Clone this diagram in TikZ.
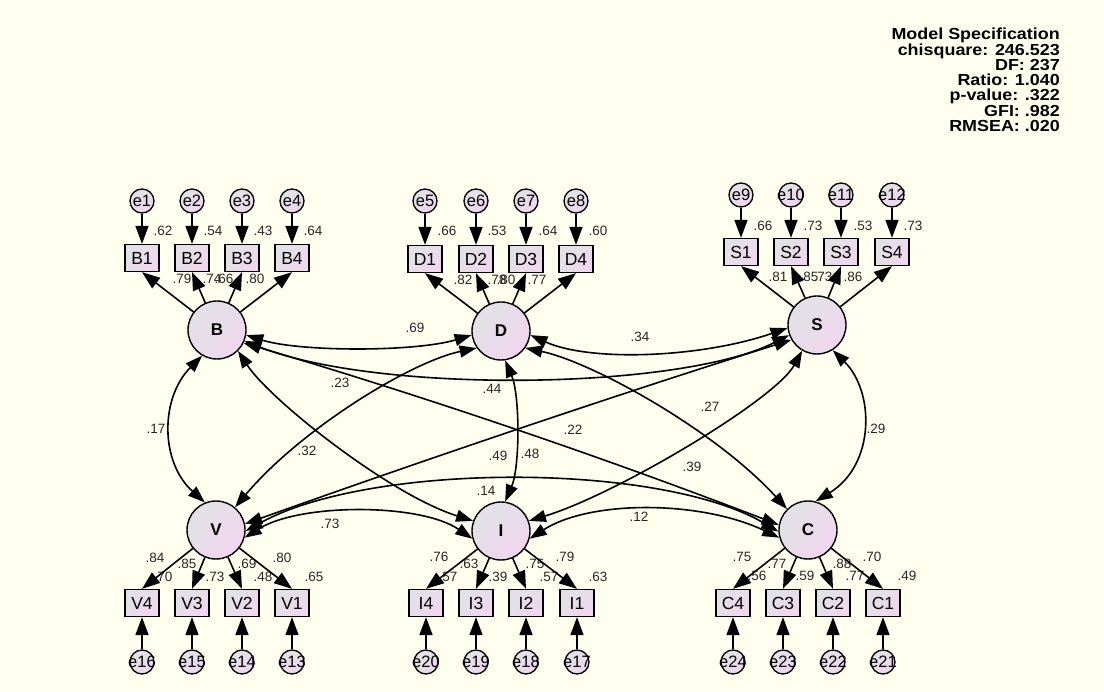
\documentclass[tikz,border=0pt]{standalone}
\usepackage{fontspec}
\setmainfont{Liberation Sans}
\newfontfamily\specfont[FakeStretch=1.12]{Liberation Sans}
\usetikzlibrary{arrows.meta}
\definecolor{bgc}{HTML}{FFFFF0}
\definecolor{gtop}{HTML}{E2E2E6}
\definecolor{gbot}{HTML}{F0D6EE}
\begin{document}
\begin{tikzpicture}[x=1pt,y=1pt,
  lat/.style={circle,draw=black,line width=1.4pt,minimum size=58pt,inner sep=0pt,top color=gtop,bottom color=gbot,shading angle=45,font=\fontsize{17}{17}\selectfont\bfseries},
  obs/.style={rectangle,draw=black,line width=1.3pt,minimum width=34pt,minimum height=27pt,inner sep=0pt,top color=gtop,bottom color=gbot,shading angle=45,font=\fontsize{17.5}{17.5}\selectfont},
  err/.style={circle,draw=black,line width=1.3pt,minimum size=24pt,inner sep=0pt,top color=gtop,bottom color=gbot,shading angle=45,font=\fontsize{16.5}{16.5}\selectfont},
  num/.style={inner sep=0pt,text=black!85,font=\fontsize{13.5}{13.5}\selectfont},
  ar/.style={line width=1.6pt,-{Triangle[length=18pt,width=13pt]}},
  dar/.style={line width=1.6pt,{Triangle[length=17pt,width=12pt]}-{Triangle[length=17pt,width=12pt]}},
  spec/.style={inner sep=0pt,anchor=base east,font=\specfont\bfseries\fontsize{16}{16}\selectfont}
]
\fill[bgc] (0,0) rectangle (1104,-692);
\useasboundingbox (0,0) rectangle (1104,-692);

% latent variables
\node[lat] (B) at (217,-330) {B};
\node[lat] (D) at (501,-331) {D};
\node[lat] (S) at (817,-325) {S};
\node[lat] (V) at (216,-530) {V};
\node[lat] (I) at (501,-531) {I};
\node[lat] (C) at (808,-530) {C};

% top indicators and errors
\foreach \n/\x/\e in {1/142/1,2/192/2,3/242/3,4/292/4}{
  \node[obs] (B\n) at (\x,-258) {B\n};
  \node[err] (e\e) at (\x,-201) {\makebox[0pt]{e\e}};
}
\foreach \n/\x/\e in {1/425/5,2/476/6,3/526/7,4/576/8}{
  \node[obs] (D\n) at (\x,-259) {D\n};
  \node[err] (e\e) at (\x,-201) {\makebox[0pt]{e\e}};
}
\foreach \n/\x/\e in {1/741/9,2/791/10,3/841/11,4/892/12}{
  \node[obs] (S\n) at (\x,-252) {S\n};
  \node[err] (e\e) at (\x,-195) {\makebox[0pt]{e\e}};
}
% bottom indicators and errors
\foreach \n/\x/\e in {4/142/16,3/192/15,2/242/14,1/292/13}{
  \node[obs] (V\n) at (\x,-603) {V\n};
  \node[err] (e\e) at (\x,-662) {\makebox[0pt]{e\e}};
}
\foreach \n/\x/\e in {4/426/20,3/476/19,2/526/18,1/577/17}{
  \node[obs] (I\n) at (\x,-603) {I\n};
  \node[err] (e\e) at (\x,-662) {\makebox[0pt]{e\e}};
}
\foreach \n/\x/\e in {4/733/24,3/783/23,2/833/22,1/883/21}{
  \node[obs] (C\n) at (\x,-603) {C\n};
  \node[err] (e\e) at (\x,-662) {\makebox[0pt]{e\e}};
}

% squared multiple correlations (top)
\node[num] (rB1) at (163,-231) {.62};
\node[num] (rB2) at (213,-231) {.54};
\node[num] (rB3) at (263,-231) {.43};
\node[num] (rB4) at (313,-231) {.64};
\node[num] (rD1) at (447,-231) {.66};
\node[num] (rD2) at (497,-231) {.53};
\node[num] (rD3) at (548,-231) {.64};
\node[num] (rD4) at (598,-231) {.60};
\node[num] (rS1) at (763,-226) {.66};
\node[num] (rS2) at (813,-226) {.73};
\node[num] (rS3) at (863,-226) {.53};
\node[num] (rS4) at (913,-226) {.73};
% loadings (top)
\node[num] (lB1) at (182,-279) {.79};
\node[num] (lB2) at (212,-279) {.74};
\node[num] (lB3) at (224,-279) {.66};
\node[num] (lB4) at (255,-279) {.80};
\node[num] (lD1) at (463,-280) {.82};
\node[num] (lD2) at (497,-280) {.78};
\node[num] (lD3) at (506,-280) {.80};
\node[num] (lD4) at (537,-280) {.77};
\node[num] (lS1) at (778,-277) {.81};
\node[num] (lS2) at (809,-277) {.85};
\node[num] (lS3) at (823,-277) {.73};
\node[num] (lS4) at (853,-277) {.86};
% loadings and R2 (bottom)
\node[num] (lV4) at (155,-558) {.84};
\node[num] (lV3) at (187,-564) {.85};
\node[num] (lV2) at (247,-564) {.69};
\node[num] (lV1) at (282,-558) {.80};
\node[num] (rV4) at (163,-577) {.70};
\node[num] (rV3) at (215,-577) {.73};
\node[num] (rV2) at (263,-577) {.48};
\node[num] (rV1) at (314,-577) {.65};
\node[num] (lI4) at (439,-557) {.76};
\node[num] (lI3) at (469,-564) {.63};
\node[num] (lI2) at (535,-564) {.75};
\node[num] (lI1) at (565,-557) {.79};
\node[num] (rI4) at (448,-577) {.57};
\node[num] (rI3) at (498,-577) {.39};
\node[num] (rI2) at (549,-577) {.57};
\node[num] (rI1) at (598,-577) {.63};
\node[num] (lC4) at (742,-557) {.75};
\node[num] (lC3) at (777,-564) {.77};
\node[num] (lC2) at (842,-564) {.88};
\node[num] (lC1) at (872,-557) {.70};
\node[num] (rC4) at (757,-576) {.56};
\node[num] (rC3) at (805,-576) {.59};
\node[num] (rC2) at (855,-576) {.77};
\node[num] (rC1) at (907,-576) {.49};
% correlations
\node[num] (cBD) at (415,-328) {.69};
\node[num] (cDS) at (640,-337) {.34};
\node[num] (cDV) at (340,-383) {.23};
\node[num] (cBS) at (492,-389) {.44};
\node[num] (cBV) at (156,-429) {.17};
\node[num] (cBI) at (307,-451) {.32};
\node[num] (cSV) at (498,-456) {.49};
\node[num] (cDI) at (530,-454) {.48};
\node[num] (cVC) at (486,-491) {.14};
\node[num] (cVI) at (330,-524) {.73};
\node[num] (cBC) at (573,-430) {.22};
\node[num] (cDC) at (710,-407) {.27};
\node[num] (cSI) at (692,-467) {.39};
\node[num] (cSC) at (876,-429) {.29};
\node[num] (cIC) at (639,-517) {.12};

% model specification
\node[spec] (m1) at (1060,-40) {Model Specification};
\node[spec] (m2) at (1060,-56) {chisquare: 246.523};
\node[spec] (m3) at (1060,-71) {DF: 237};
\node[spec] (m4) at (1060,-86) {Ratio: 1.040};
\node[spec] (m5) at (1060,-101) {p-value: .322};
\node[spec] (m6) at (1060,-117) {GFI: .982};
\node[spec] (m7) at (1060,-132) {RMSEA: .020};

% loading arrows
\foreach \f in {B,D,S}{
  \foreach \n in {1,2,3,4}{
    \draw[ar] (\f) -- (\f\n.south);
  }
}
\foreach \f in {V,I,C}{
  \foreach \n in {1,2,3,4}{
    \draw[ar] (\f) -- (\f\n.north);
  }
}
% error arrows
\foreach \b/\e in {B1/1,B2/2,B3/3,B4/4,D1/5,D2/6,D3/7,D4/8,S1/9,S2/10,S3/11,S4/12}{
  \draw[ar] (e\e) -- (\b.north);
}
\foreach \b/\e in {V1/13,V2/14,V3/15,V4/16,I1/17,I2/18,I3/19,I4/20,C1/21,C2/22,C3/23,C4/24}{
  \draw[ar] (e\e) -- (\b.south);
}

% covariances
\draw[dar] (B.-10) .. controls (300,-352) and (415,-352) .. (D.188);
\draw[dar] (B.-22) .. controls (380,-394) and (680,-390) .. (S.200);
\draw[dar] (D.-8) .. controls (590,-362) and (700,-358) .. (S.186);
\draw[dar] (B.240) .. controls (160,-398) and (160,-462) .. (V.112);
\draw[dar] (S.-58) .. controls (875,-392) and (875,-465) .. (C.75);
\draw[dar] (D.-82) .. controls (520,-395) and (520,-467) .. (I.82);
\draw[dar] (D.215) .. controls (410,-362) and (300,-430) .. (V.50);
\draw[dar] (D.-35) .. controls (592,-362) and (715,-430) .. (C.135);
\draw[dar] (B.-45) .. controls (270,-400) and (390,-495) .. (I.160);
\draw[dar] (S.240) .. controls (775,-400) and (615,-495) .. (I.20);
\draw[dar] (B.-26) .. controls (420,-395) and (600,-456) .. (C.170);
\draw[dar] (S.210) .. controls (610,-397) and (430,-458) .. (V.12);
\draw[dar] (V.-2) .. controls (370,-462) and (660,-462) .. (C.183);
\draw[dar] (V.-15) .. controls (300,-503) and (420,-503) .. (I.195);
\draw[dar] (I.-15) .. controls (590,-500) and (700,-500) .. (C.195);
\end{tikzpicture}
\end{document}
